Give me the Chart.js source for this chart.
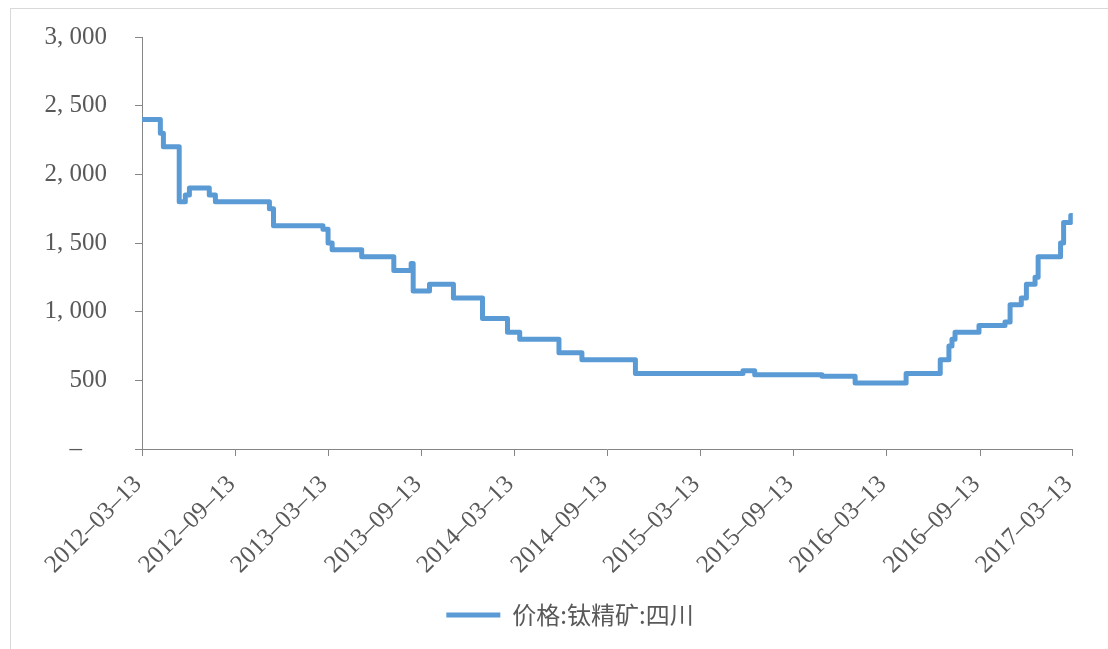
<!DOCTYPE html>
<html>
<head>
<meta charset="utf-8">
<script src="https://cdn.jsdelivr.net/npm/chart.js@4"></script>
<style>
  body { margin: 0; background: #fff; }
  #box {
    position: absolute; left: 10px; top: 8px;
    width: 1097px; height: 640px;
    border-left: 1px solid #d9d9d9; border-top: 1px solid #d9d9d9;
  }
</style>
</head>
<body>
<div id="box"><canvas id="myChart"></canvas></div>
<script>
// price changes: date the price moved, new price (yuan/ton)
const changeDates = [
  "2012-03-13", "2012-04-18", "2012-04-24", "2012-05-25", "2012-06-06", "2012-06-14",
  "2012-07-23", "2012-08-04", "2012-11-18", "2012-11-26", "2013-03-03", "2013-03-13",
  "2013-03-21", "2013-05-18", "2013-07-20", "2013-08-23", "2013-08-27", "2013-09-28",
  "2013-11-14", "2014-01-10", "2014-02-28", "2014-03-24", "2014-06-09", "2014-07-24",
  "2014-11-06", "2015-06-05", "2015-06-28", "2015-11-07", "2016-01-11", "2016-04-20",
  "2016-06-26", "2016-07-13", "2016-07-19", "2016-07-25", "2016-09-10", "2016-10-31",
  "2016-11-10", "2016-12-02", "2016-12-12", "2016-12-29", "2017-01-04", "2017-02-17",
  "2017-02-23", "2017-03-09", "2017-03-13"
];
const prices = [
  2400, 2300, 2200, 1800, 1850, 1900,
  1850, 1800, 1750, 1625, 1600, 1500,
  1450, 1400, 1300, 1350, 1150, 1200,
  1100, 950, 850, 800, 700, 650,
  550, 570, 540, 530, 480, 550,
  650, 750, 800, 850, 900, 925,
  1050, 1100, 1200, 1250, 1400, 1500,
  1650, 1700, 1700
];
const tickDates = [
  "2012-03-13", "2012-09-13", "2013-03-13", "2013-09-13", "2014-03-13", "2014-09-13",
  "2015-03-13", "2015-09-13", "2016-03-13", "2016-09-13", "2017-03-13"
];
const yTicks = [0, 500, 1000, 1500, 2000, 2500, 3000];
const seriesName = "价格:钛精矿:四川";

function toDay(s) {
  const p = s.split("-");
  return Date.UTC(+p[0], +p[1] - 1, +p[2]) / 86400000;
}

const points = changeDates.map((d, i) => ({ x: toDay(d), y: prices[i] }));
const gray = "#868686";
const textGray = "#595959";
const blue = "#5B9BD5";

// nudge the legend a bit to the right, like the original
const legendShift = {
  id: "legendShift",
  afterLayout(chart) {
    chart.legend.left += 28;
    chart.legend.right += 28;
  }
};

new Chart(document.getElementById("myChart"), {
  type: "line",
  data: {
    datasets: [{
      label: seriesName,
      data: points,
      borderColor: blue,
      backgroundColor: blue,
      borderWidth: 5,
      pointRadius: 0,
      stepped: "before",
      borderJoinStyle: "round",
      borderCapStyle: "round"
    }]
  },
  options: {
    responsive: true,
    maintainAspectRatio: false,
    animation: false,
    layout: { padding: { top: 28, right: 35, bottom: 12, left: 0 } },
    plugins: {
      tooltip: { enabled: false },
      legend: {
        position: "bottom",
        labels: {
          boxWidth: 54,
          boxHeight: 5,
          padding: 10,
          color: textGray,
          font: { family: "'Noto Sans CJK SC', sans-serif", size: 24 },
          generateLabels: (chart) => [{
            text: seriesName, fillStyle: blue, strokeStyle: blue,
            lineWidth: 0, datasetIndex: 0, fontColor: textGray
          }]
        }
      }
    },
    scales: {
      x: {
        type: "linear",
        min: toDay(tickDates[0]),
        max: toDay(tickDates[tickDates.length - 1]),
        afterBuildTicks: (axis) => {
          axis.ticks = tickDates.map(d => ({ value: toDay(d) }));
        },
        afterFit: (axis) => { axis.height = 144; },
        border: { color: gray, width: 1 },
        grid: { display: true, drawOnChartArea: false, tickLength: 7, color: gray },
        ticks: {
          minRotation: 45,
          maxRotation: 45,
          padding: 14,
          labelOffset: -4,
          color: textGray,
          font: { family: "'Liberation Serif', serif", size: 25 },
          callback: (v, i) => tickDates[i].replace(/-/g, "–")
        }
      },
      y: {
        min: 0,
        max: 3000,
        afterBuildTicks: (axis) => {
          axis.ticks = yTicks.map(v => ({ value: v }));
        },
        afterFit: (axis) => {
          axis.width = 131;
          axis.paddingTop = 0;
          axis.paddingBottom = 0;
        },
        border: { color: gray, width: 1 },
        grid: { display: true, drawOnChartArea: false, tickLength: 7, color: gray },
        ticks: {
          padding: 28,
          color: textGray,
          font: { family: "'Liberation Serif', serif", size: 25 },
          callback: (v) => v === 0 ? "–    " : v.toLocaleString("en-US").replace(",", ", ")
        }
      }
    }
  },
  plugins: [legendShift]
});
</script>
</body>
</html>
